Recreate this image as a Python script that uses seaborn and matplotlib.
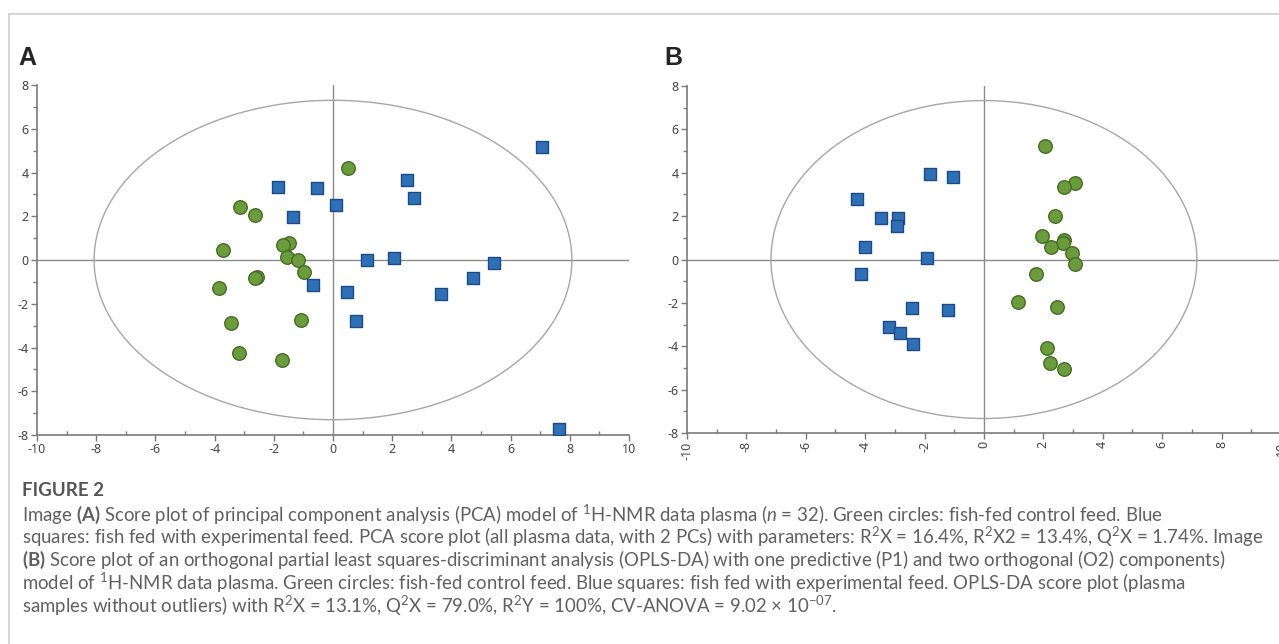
import matplotlib
matplotlib.use("Agg")
import numpy as np
import pandas as pd
import matplotlib.pyplot as plt
import seaborn as sns
from matplotlib.patches import Ellipse
from matplotlib.lines import Line2D
from matplotlib.ticker import MultipleLocator

# ------------------------------------------------------------------
# Datos (scores t1 / t2)
# ------------------------------------------------------------------
# Panel A: PCA, todas las muestras de plasma (n = 32)
pca_control_x = [0.50, -3.14, -2.62, -3.70, -1.50, -1.68, -1.54, -1.17,
                 -0.97, -2.58, -2.62, -3.86, -3.46, -1.08, -3.19, -1.72]
pca_control_y = [4.22, 2.41, 2.07, 0.47, 0.78, 0.70, 0.14, 0.00,
                 -0.55, -0.76, -0.82, -1.27, -2.88, -2.75, -4.23, -4.56]
pca_exp_x = [7.05, 2.50, 2.72, -1.86, -0.54, 0.10, -1.34, 1.14,
             2.07, 5.43, 4.73, 3.66, -0.68, 0.47, 0.79, 7.63]
pca_exp_y = [5.16, 3.65, 2.85, 3.34, 3.29, 2.53, 1.95, 0.00,
             0.09, -0.14, -0.82, -1.56, -1.16, -1.45, -2.78, -7.73]

# Panel B: OPLS-DA, sin outliers
opls_control_x = [2.04, 3.08, 2.68, 2.39, 1.97, 2.68, 2.67, 2.26,
                  2.97, 3.08, 1.75, 1.14, 2.46, 2.13, 2.21, 2.71]
opls_control_y = [5.24, 3.53, 3.35, 2.00, 1.08, 0.92, 0.75, 0.60,
                  0.29, -0.20, -0.69, -1.95, -2.20, -4.06, -4.75, -5.04]
opls_exp_x = [-1.83, -1.05, -4.29, -3.47, -2.90, -2.94, -4.02,
              -1.93, -4.15, -2.43, -1.21, -3.18, -2.83, -2.39]
opls_exp_y = [3.93, 3.82, 2.80, 1.92, 1.92, 1.55, 0.60,
              0.05, -0.69, -2.24, -2.35, -3.12, -3.38, -3.90]

# Elipse de Hotelling T2 (semiejes) de cada modelo
elipse_pca = (8.07, 7.30)
elipse_opls = (7.17, 7.33)

ticks_principales = [-10, -8, -6, -4, -2, 0, 2, 4, 6, 8, 10]
ticks_y = [-8, -6, -4, -2, 0, 2, 4, 6, 8]

# ------------------------------------------------------------------
# Estilo
# ------------------------------------------------------------------
sns.set_style("ticks")
plt.rcParams["font.family"] = ["Lato", "DejaVu Sans"]
plt.rcParams["axes.unicode_minus"] = False
plt.rcParams["mathtext.fontset"] = "custom"
plt.rcParams["mathtext.rm"] = "Lato"
plt.rcParams["mathtext.it"] = "Lato:italic"
plt.rcParams["mathtext.bf"] = "Lato:bold"

verde, verde_borde = "#6b9b3d", "#436d25"
azul, azul_borde = "#2f6fb6", "#1c4a82"
gris_eje = "#7a7a7a"
gris_linea = "#8a8a8a"


def armar_df(cx, cy, ex, ey):
    d1 = pd.DataFrame({"t1": cx, "t2": cy, "grupo": "control"})
    d2 = pd.DataFrame({"t1": ex, "t2": ey, "grupo": "experimental"})
    return pd.concat([d1, d2], ignore_index=True)


def dibujar_panel(ax, df, semiejes, rotar_x=False):
    ax.set_xlim(-10, 10)
    ax.set_ylim(-8, 8)

    # líneas de cero y elipse
    ax.axhline(0, color=gris_linea, lw=1.0, zorder=1)
    ax.axvline(0, color=gris_linea, lw=1.0, zorder=1)
    ax.add_patch(Ellipse((0, 0), 2 * semiejes[0], 2 * semiejes[1],
                         fill=False, edgecolor="#a6a6a6", lw=1.0, zorder=1))

    sns.scatterplot(data=df[df.grupo == "experimental"], x="t1", y="t2",
                    marker="s", s=85, color=azul, edgecolor=azul_borde,
                    linewidth=1.0, ax=ax, zorder=3, legend=False)
    sns.scatterplot(data=df[df.grupo == "control"], x="t1", y="t2",
                    marker="o", s=95, color=verde, edgecolor=verde_borde,
                    linewidth=1.0, ax=ax, zorder=3, legend=False)

    ax.set_xlabel("")
    ax.set_ylabel("")
    ax.set_xticks(ticks_principales)
    ax.set_yticks(ticks_y)
    ax.xaxis.set_minor_locator(MultipleLocator(1))
    ax.yaxis.set_minor_locator(MultipleLocator(1))
    for lado in ["top", "right"]:
        ax.spines[lado].set_visible(False)
    for lado in ["left", "bottom"]:
        ax.spines[lado].set_color(gris_eje)
        ax.spines[lado].set_linewidth(1.2)
    ax.tick_params(which="major", length=4, width=1, color=gris_eje,
                   labelsize=9, labelcolor="#444444", pad=2)
    ax.tick_params(which="minor", length=3, width=1, color=gris_eje)
    ax.tick_params(axis="x", which="minor", direction="in")
    for lbl in ax.get_xticklabels() + ax.get_yticklabels():
        lbl.set_family(["Noto Sans", "DejaVu Sans"])
    if rotar_x:
        ax.tick_params(axis="x", labelrotation=90)


fig = plt.figure(figsize=(12.79, 6.44), dpi=100)

ax_a = fig.add_axes([0.0289, 0.3245, 0.4629, 0.5435])
ax_b = fig.add_axes([0.5371, 0.3276, 0.4644, 0.5388])

dibujar_panel(ax_a, armar_df(pca_control_x, pca_control_y, pca_exp_x, pca_exp_y),
              elipse_pca)
dibujar_panel(ax_b, armar_df(opls_control_x, opls_control_y, opls_exp_x, opls_exp_y),
              elipse_opls, rotar_x=True)

# letras de panel
fig.text(18 / 1279, 1 - 58 / 644, "A", fontsize=18, fontweight="bold",
         family=["Liberation Sans", "DejaVu Sans"], va="center", ha="left")
fig.text(664 / 1279, 1 - 58 / 644, "B", fontsize=18, fontweight="bold",
         family=["Liberation Sans", "DejaVu Sans"], va="center", ha="left")

# marco de la página
fig.add_artist(Line2D([9 / 1279, 1.0], [1 - 14 / 644, 1 - 14 / 644],
                      color="#cfcfcf", lw=1.2))
fig.add_artist(Line2D([9 / 1279, 9 / 1279], [1 - 14 / 644, 0.0],
                      color="#cfcfcf", lw=1.2))

# pie de figura
color_texto = "#606060"
fig.text(22 / 1279, 1 - 491 / 644, "FIGURE 2", fontsize=13.5,
         fontweight="bold", color="#555555", va="center", ha="left")

lineas = [
    r"Image $\mathbf{(A)}$ Score plot of principal component analysis (PCA) model of $^{1}$H-NMR data plasma ($n$ = 32). Green circles: fish-fed control feed. Blue",
    r"squares: fish fed with experimental feed. PCA score plot (all plasma data, with 2 PCs) with parameters: R$^{2}$X = 16.4%, R$^{2}$X2 = 13.4%, Q$^{2}$X = 1.74%. Image",
    r"$\mathbf{(B)}$ Score plot of an orthogonal partial least squares-discriminant analysis (OPLS-DA) with one predictive (P1) and two orthogonal (O2) components)",
    r"model of $^{1}$H-NMR data plasma. Green circles: fish-fed control feed. Blue squares: fish fed with experimental feed. OPLS-DA score plot (plasma",
    r"samples without outliers) with R$^{2}$X = 13.1%, Q$^{2}$X = 79.0%, R$^{2}$Y = 100%, CV-ANOVA = 9.02 $\times$ 10$^{-07}$.",
]
for i, linea in enumerate(lineas):
    fig.text(22 / 1279, 1 - (514 + 23 * i) / 644, linea, fontsize=13.45,
             color=color_texto, va="center", ha="left")

fig.savefig("out.png", dpi=100)
plt.close(fig)
